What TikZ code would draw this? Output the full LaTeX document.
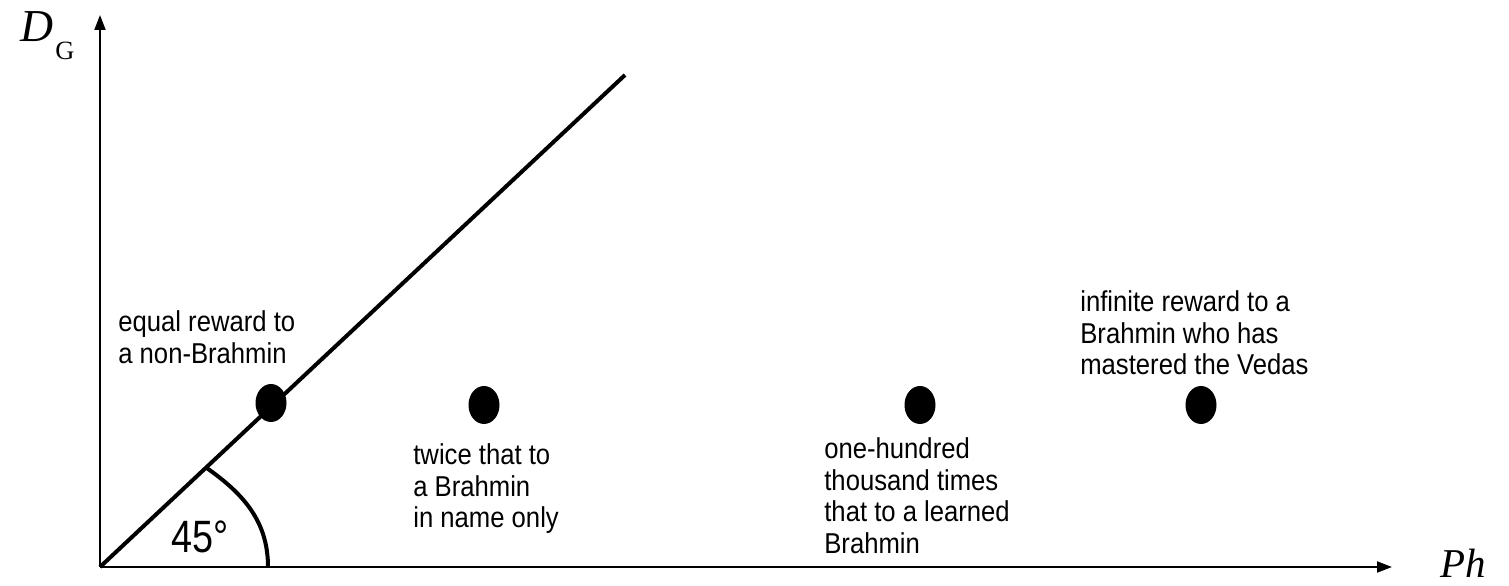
\documentclass[tikz,border=0pt]{standalone}
\usepackage{fontspec}
\setmainfont{Liberation Sans}
\newfontfamily\axisfont{Liberation Serif}
\usetikzlibrary{arrows.meta,shapes.geometric}

\begin{document}
\begin{tikzpicture}[>={Triangle[length=.3cm,width=.22cm]},
  axis/.style={->,line width=.04cm},
  heavy/.style={line width=.08cm},
  point/.style={fill,ellipse,inner sep=0pt,minimum width=.62cm,minimum height=.76cm},
  note/.style={align=left,anchor=north west,inner sep=0pt,yscale=1.12,
    font=\fontsize{14.6}{16.2}\selectfont}]
  \useasboundingbox (-2,-.38) rectangle (28.18,11.34);
  \coordinate (origin) at (0,0);
  \coordinate (ytop) at (0,11.04);
  \coordinate (xend) at (25.84,0);
  \draw[axis] (origin) -- (ytop);
  \draw[axis] (origin) -- (xend);
  \node[anchor=base west,inner sep=0pt] (ylabel) at (-1.6,10.5)
    {\axisfont\fontsize{26}{26}\selectfont\itshape D\kern.04cm\raisebox{-.36cm}{\upshape\fontsize{15}{15}\selectfont G}};
  \node[anchor=base west,inner sep=0pt] (xlabel) at (26.8,-.22)
    {\axisfont\fontsize{23.3}{23.3}\selectfont\itshape Ph};
  % line and angle
  \coordinate (lineend) at (10.5,9.84);
  \draw[heavy] (origin) -- (lineend);
  \coordinate (arcstart) at (2.12,1.99);
  \coordinate (arcend) at (3.36,0);
  \draw[heavy] (arcstart) to[out=-35,in=90] (arcend);
  \node[font=\fontsize{21.5}{21.5}\selectfont,yscale=1.2] (angle) at (2.0,.6) {45°};
  % points
  \node[point] (nonbrahmin) at (3.42,3.28) {};
  \node[point] (inname) at (7.68,3.24) {};
  \node[point] (learned) at (16.4,3.24) {};
  \node[point] (vedas) at (22.02,3.24) {};
  \node[note] (nonbrahmintext) at (.36,5.14) {equal reward to\\a non-Brahmin};
  \node[note] (innametext) at (6.26,2.48) {twice that to\\a Brahmin\\in name only};
  \node[note] (learnedtext) at (14.48,2.6) {one-hundred\\thousand times\\that to a learned\\Brahmin};
  \node[note] (vedastext) at (19.6,5.54) {infinite reward to a\\Brahmin who has\\mastered the Vedas};
\end{tikzpicture}
\end{document}
